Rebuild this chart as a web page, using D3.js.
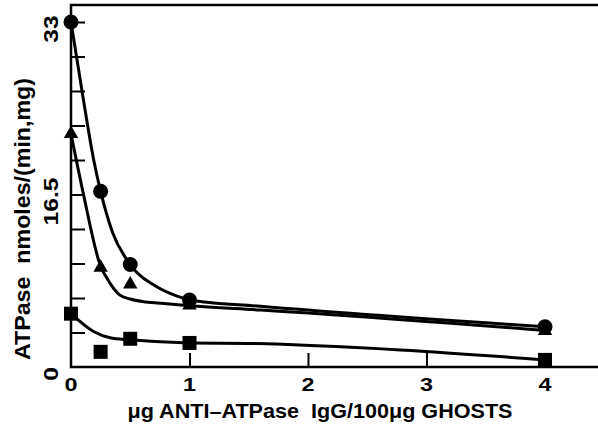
<!DOCTYPE html>
<html>
<head>
<meta charset="utf-8">
<script src="https://cdn.jsdelivr.net/npm/d3@7"></script>
<style>
  html, body { margin: 0; padding: 0; background: #fff; }
  svg { display: block; }
  text { font-family: "Liberation Sans", Arial, Helvetica, sans-serif; font-weight: bold; fill: #000; white-space: pre; }
</style>
</head>
<body>
<svg class="chart"></svg>
<script>
const WIDTH = 598
const HEIGHT = 428

// measured points (µg anti-ATPase IgG per 100 µg ghosts)
const doses = [0, 0.25, 0.5, 1, 4]
const circleVals = [33, 16.8, 9.8, 6.4, 3.85]
const triangleVals = [22.3, 9.5, 7.9, 5.9, 3.45]
const squareVals = [5.1, 1.45, 2.7, 2.3, 0.68]

// hand-drawn fitted curves
const circleFitX = [0, 0.1, 0.19, 0.25, 0.35, 0.5, 0.72, 0.89, 1, 1.6, 4]
const circleFitY = [33, 25.9, 19.9, 16.8, 12.9, 9.8, 7.7, 6.8, 6.4, 5.8, 3.85]
const triangleFitX = [0, 0.1, 0.245, 0.33, 0.41, 0.5, 0.61, 0.75, 1, 1.6, 4]
const triangleFitY = [22.3, 16.8, 9.8, 8.0, 6.9, 6.5, 6.25, 6.1, 5.85, 5.45, 3.5]
const squareFitX = [0, 0.19, 0.33, 0.5, 1, 1.5, 2.78, 4]
const squareFitY = [5.1, 3.4, 2.8, 2.6, 2.3, 2.25, 1.63, 0.68]

const xTicks = [1, 2, 3]
const xTickLabels = [0, 1, 2, 3, 4]
const yTicks = [3.3, 6.6, 9.9, 13.2, 16.5, 19.8, 23.1, 26.4, 29.7, 33]
const yTickLabels = [0, 16.5, 33]

const X_LABEL = 'μg ANTI–ATPase  IgG/100μg GHOSTS'
const Y_LABEL = 'ATPase  nmoles/(min,mg)'

const svg = d3.select('.chart')
  .attr('width', WIDTH)
  .attr('height', HEIGHT)

const x = d3.scaleLinear().domain([0, 4]).range([71, 545])
const y = d3.scaleLinear().domain([0, 33]).range([367, 22])

const frameTop = 5
const frameRight = WIDTH

// frame: left axis, top line, bottom axis (open on the right)
svg.append('path')
  .attr('d', `M${frameRight},${frameTop}H${x(0)}V${y(0)}H${frameRight}`)
  .attr('fill', 'none')
  .attr('stroke', '#000')
  .attr('stroke-width', 2.5)

// inward ticks
const xAxis = svg.append('g')
  .attr('transform', `translate(0,${y(0)})`)
  .call(d3.axisBottom(x).tickValues(xTicks).tickSize(-14).tickSizeOuter(0).tickFormat(''))
xAxis.select('.domain').remove()
xAxis.selectAll('line').attr('stroke-width', 2)

const yAxis = svg.append('g')
  .attr('transform', `translate(${x(0)},0)`)
  .call(d3.axisLeft(y).tickValues(yTicks).tickSize(-14).tickSizeOuter(0).tickFormat(''))
yAxis.select('.domain').remove()
yAxis.selectAll('line').attr('stroke-width', 2)

// tick labels (the original face is wide, so stretch horizontally)
svg.selectAll('.x-label')
  .data(xTickLabels)
  .enter().append('text')
  .attr('class', 'x-label')
  .attr('transform', d => `translate(${x(d)},391) scale(1.3,1)`)
  .attr('text-anchor', 'middle')
  .attr('font-size', 18)
  .text(d => d)

svg.selectAll('.y-label')
  .data(yTickLabels)
  .enter().append('text')
  .attr('class', 'y-label')
  .attr('transform', d => `translate(58,${y(d) + 7}) rotate(-90) scale(1.17,1)`)
  .attr('text-anchor', 'middle')
  .attr('font-size', 21)
  .text(d => d)

// axis titles
svg.append('text')
  .attr('x', 320)
  .attr('y', 418)
  .attr('text-anchor', 'middle')
  .attr('font-size', 21)
  .attr('textLength', 385)
  .attr('lengthAdjust', 'spacingAndGlyphs')
  .text(X_LABEL)

svg.append('text')
  .attr('transform', 'translate(30,219) rotate(-90)')
  .attr('text-anchor', 'middle')
  .attr('font-size', 22)
  .attr('textLength', 282)
  .attr('lengthAdjust', 'spacingAndGlyphs')
  .text(Y_LABEL)

// fitted curves
const line = d3.line()
  .x(d => x(d[0]))
  .y(d => y(d[1]))
  .curve(d3.curveMonotoneX)

const fits = [
  d3.zip(circleFitX, circleFitY),
  d3.zip(triangleFitX, triangleFitY),
  d3.zip(squareFitX, squareFitY)
]

svg.selectAll('.fit')
  .data(fits)
  .enter().append('path')
  .attr('class', 'fit')
  .attr('d', line)
  .attr('fill', 'none')
  .attr('stroke', '#000')
  .attr('stroke-width', 3)

// markers
svg.selectAll('.circle-pt')
  .data(d3.zip(doses, circleVals))
  .enter().append('circle')
  .attr('class', 'circle-pt')
  .attr('cx', d => x(d[0]))
  .attr('cy', d => y(d[1]))
  .attr('r', 7.5)

svg.selectAll('.tri-pt')
  .data(d3.zip(doses, triangleVals))
  .enter().append('path')
  .attr('class', 'tri-pt')
  .attr('d', d3.symbol(d3.symbolTriangle, 90))
  .attr('transform', d => `translate(${x(d[0])},${y(d[1])})`)

svg.selectAll('.sq-pt')
  .data(d3.zip(doses, squareVals))
  .enter().append('rect')
  .attr('class', 'sq-pt')
  .attr('x', d => x(d[0]) - 7)
  .attr('y', d => y(d[1]) - 7)
  .attr('width', 14)
  .attr('height', 14)
</script>
</body>
</html>
